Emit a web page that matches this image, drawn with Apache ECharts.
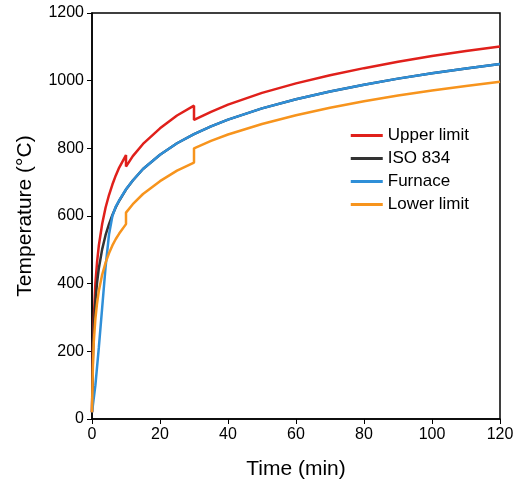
<!DOCTYPE html><html><head><meta charset="utf-8"><script src="https://cdn.jsdelivr.net/npm/echarts@6/dist/echarts.min.js"></script></head><body style="margin:0"><div id="c" style="width:520px;height:497px"></div><script>
const xTicks=[0,20,40,60,80,100,120];
const upper=[[0,20],[0.25,200],[0.5,290],[1,401],[1.5,465],[2,512],[3,577],[4,625],[5,662],[6,693],[7,720],[8,743],[10,780],[10,746],[12,777],[15,813],[20,859],[25,897],[30,926],[30,884],[35,908],[40,929],[50,964],[60,992],[70,1016],[80,1037],[90,1056],[100,1073],[110,1088],[120,1101]];
const iso=[[0,20],[0.25,175],[0.5,261],[1,349],[1.5,404],[2,445],[3,502],[4,544],[5,576],[6,603],[7,626],[8,645],[10,678],[12,705],[15,739],[20,781],[25,815],[30,842],[35,865],[40,885],[50,918],[60,945],[70,968],[80,988],[90,1006],[100,1022],[110,1036],[120,1049]];
const furnace=[[0,20],[1,100],[2,210],[3,330],[4,450],[5,545],[6,600],[7,628],[8,646],[10,679],[12,705],[15,739],[20,781],[25,815],[30,842],[35,865],[40,885],[50,918],[60,945],[70,968],[80,988],[90,1006],[100,1022],[110,1036],[120,1049]];
const lower=[[0,20],[0.25,150],[0.5,225],[1,297],[1.5,343],[2,378],[3,427],[4,462],[5,490],[6,513],[7,532],[8,548],[10,576],[10,610],[12,635],[15,665],[20,703],[25,734],[30,758],[30,800],[35,822],[40,841],[50,872],[60,898],[70,920],[80,939],[90,956],[100,971],[110,984],[120,997]];
const ch=echarts.init(document.getElementById('c'));
const ax={axisLine:{show:true,lineStyle:{color:'#000',width:1.5}},axisTick:{lineStyle:{color:'#000'}},axisLabel:{color:'#000',fontSize:16,fontFamily:'Arial',formatter:v=>String(v)},splitLine:{show:false},nameTextStyle:{color:'#000',fontSize:21,fontFamily:'Arial'}};
const mk=(n,d,c)=>({name:n,type:'line',data:d,showSymbol:false,lineStyle:{color:c,width:2.5},itemStyle:{color:c}});
ch.setOption({animation:false,
grid:{left:92,right:20,top:13,bottom:78,show:true,borderColor:'#000',borderWidth:1.5},
legend:{right:46,top:122,orient:'vertical',itemWidth:32,itemGap:6,textStyle:{fontSize:17,fontFamily:'Arial',color:'#000'},icon:'rect',itemHeight:3},
xAxis:Object.assign({type:'value',min:0,max:120,interval:20,name:'Time (min)',nameLocation:'middle',nameGap:40},ax),
yAxis:Object.assign({type:'value',min:0,max:1200,interval:200,name:'Temperature (°C)',nameLocation:'middle',nameGap:56},ax),
series:[mk('Upper limit',upper,'#e0201b'),mk('ISO 834',iso,'#333'),mk('Furnace',furnace,'#2f8fd8'),mk('Lower limit',lower,'#f7941d')]});
</script></body></html>
